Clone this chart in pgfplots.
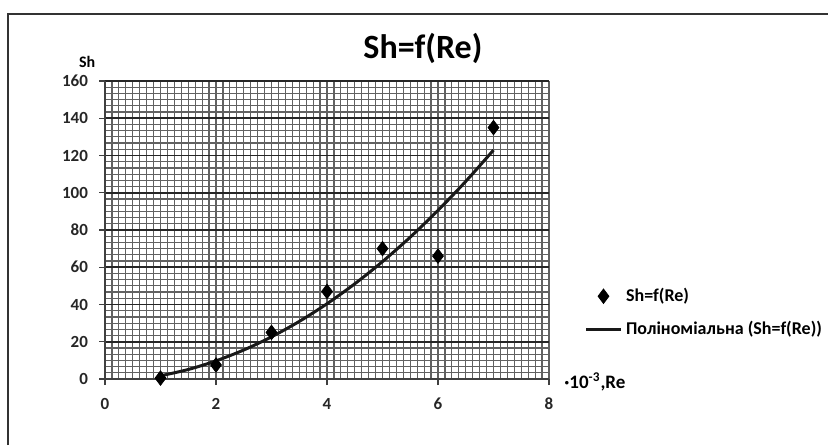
\documentclass[border=0pt]{standalone}
\usepackage{fontspec}
\setmainfont{Carlito}
\usepackage{pgfplots}
\pgfplotsset{compat=1.18}
\usetikzlibrary{calc}

\begin{document}
\begin{tikzpicture}
\begin{axis}[
  name=ax,
  scale only axis, width=222pt, height=149pt,
  xmin=0, xmax=8, ymin=0, ymax=160,
  xtick distance=2, ytick distance=20,
  minor xtick={0,0.125,...,8}, minor y tick num=5,
  axis x line=bottom, axis y line=left,
  axis line style={-, line width=0.9pt, black!75},
  tick align=outside, major tick length=3pt, minor tick length=0pt,
  major tick style={draw=black!75, line width=0.7pt},
  xmajorgrids=false, xminorgrids=true, ymajorgrids=true, yminorgrids=true,
  minor grid style={draw=black!62, line width=0.6pt},
  major y grid style={draw=black!85, line width=0.8pt},
  /pgf/number format/assume math mode=true,
  tick label style={font=\bfseries\fontsize{8.5}{10}\selectfont, black!85},
  xticklabel style={yshift=-3pt},
  yticklabel style={xshift=-2pt},
  clip=false,
  legend style={draw=none, fill=none, at={(rel axis cs:1.08,0.32)}, anchor=north west,
                font=\bfseries\fontsize{9}{11}\selectfont, row sep=4.5pt, inner sep=0pt},
  legend cell align=left,
]
\addplot[only marks, mark=diamond*, mark size=3.6pt, black]
  coordinates {(1,0.5) (2,7.5) (3,25) (4,47) (5,70) (6,66) (7,135)};
\addlegendentry{Sh=f(Re)}
\addplot[smooth, line width=1.5pt, black!90]
  coordinates {(1,1.71) (1.5,5.11) (2,9.74) (2.5,15.58) (3,22.63) (3.5,30.91) (4,40.40)
               (4.5,51.11) (5,63.03) (5.5,76.18) (6,90.54) (6.5,106.11) (7,122.91)};
\addlegendentry{Поліноміальна (Sh=f(Re))}
\node[font=\bfseries\fontsize{17}{19}\selectfont] at (rel axis cs:0.716,1.11) {Sh=f(Re)};
\node[font=\bfseries\fontsize{8}{10}\selectfont] at (rel axis cs:-0.04,1.064) {Sh};
\node[anchor=west, font=\bfseries\fontsize{9.5}{11}\selectfont, inner sep=0pt]
  at ($(rel axis cs:1,0)+(7.5pt,-1.5pt)$) {·10\textsuperscript{-3},Re};
\end{axis}
\draw[line width=0.9pt, black!80]
  ($(ax.south west)+(-48.5pt,-33pt)$) -- ($(ax.south west)+(-48.5pt,182.5pt)$)
  -- ($(ax.south west)+(361.5pt,182.5pt)$);
\pgfresetboundingbox
\path ($(ax.south west)+(-52.5pt,-33pt)$) rectangle ($(ax.south west)+(361.5pt,189.5pt)$);
\end{tikzpicture}
\end{document}
